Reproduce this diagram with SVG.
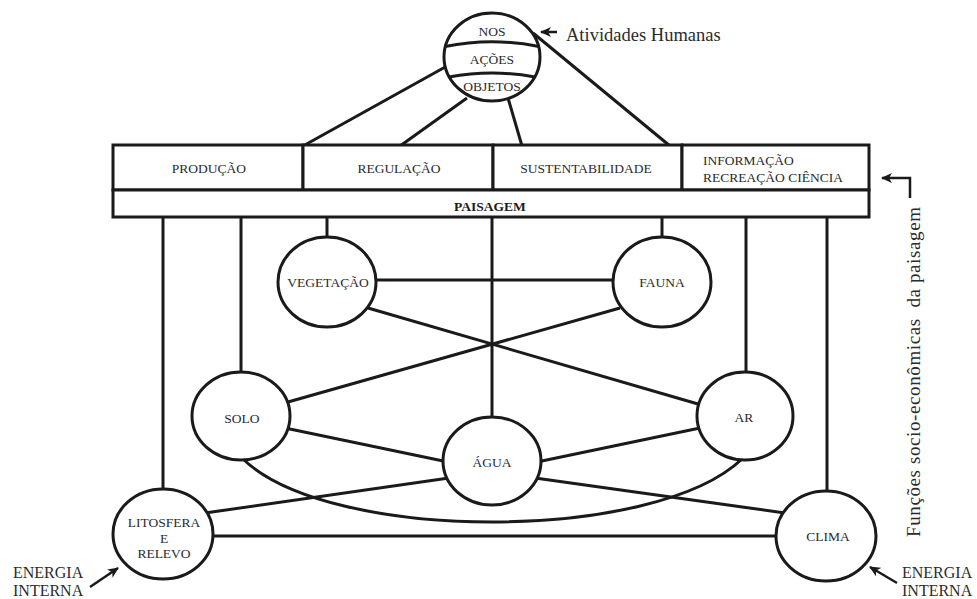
<svg xmlns="http://www.w3.org/2000/svg" width="977" height="599" viewBox="0 0 977 599">
<defs>
<marker id="ah" markerUnits="userSpaceOnUse" markerWidth="12" markerHeight="10" refX="10" refY="5" orient="auto">
<path d="M0,0 L11,5 L0,10 L3,5 z" fill="#1a1a1a"/>
</marker>
</defs>
<style>
.ln{stroke:#1a1a1a;stroke-width:3;fill:none;stroke-linecap:butt}
.nd{stroke:#1a1a1a;stroke-width:3;fill:#fff}
.bx{stroke:#1a1a1a;stroke-width:3;fill:#fff}
.t{font-family:"Liberation Serif","Times New Roman",serif;font-size:13.5px;fill:#2b2b2b;text-anchor:middle}
.b{font-weight:bold;fill:#1a1a1a}
.lg{font-family:"Liberation Serif","Times New Roman",serif;fill:#2b2b2b}
.ar{stroke:#1a1a1a;stroke-width:2.5;fill:none}
</style>
<rect width="977" height="599" fill="#fff"/>
<g id="connectors">
<line class="ln" x1="447" y1="66" x2="303" y2="146"/>
<line class="ln" x1="467" y1="98" x2="400" y2="146"/>
<line class="ln" x1="508" y1="98" x2="522" y2="146"/>
<line class="ln" x1="533" y1="33" x2="670" y2="146"/>
<line class="ln" x1="163" y1="217" x2="163" y2="500"/>
<line class="ln" x1="241" y1="217" x2="241" y2="380"/>
<line class="ln" x1="327" y1="217" x2="327" y2="245"/>
<line class="ln" x1="492" y1="217" x2="492" y2="425"/>
<line class="ln" x1="662" y1="217" x2="662" y2="245"/>
<line class="ln" x1="746" y1="217" x2="746" y2="380"/>
<line class="ln" x1="827" y1="217" x2="827" y2="500"/>
<line class="ln" x1="370" y1="280" x2="620" y2="280"/>
<line class="ln" x1="368" y1="308" x2="698" y2="404"/>
<line class="ln" x1="620" y1="308" x2="288" y2="402"/>
<line class="ln" x1="285" y1="428" x2="448" y2="462"/>
<line class="ln" x1="700" y1="428" x2="537" y2="462"/>
<line class="ln" x1="449" y1="478" x2="205" y2="513"/>
<line class="ln" x1="535" y1="478" x2="785" y2="513"/>
<line class="ln" x1="205" y1="536" x2="785" y2="536"/>
<path class="ln" d="M243,459 C330,543 654,543 742,459"/>
</g>
<g id="top">
<ellipse class="nd" cx="492" cy="57" rx="48" ry="44"/>
<path class="ln" d="M445,46.5 Q492,37 539,46.5"/>
<path class="ln" d="M449,77 Q492,69 535,77"/>
<text class="t" x="492" y="36" font-size="12.5">NOS</text>
<text class="t" x="492" y="64" font-size="12.5">AÇÕES</text>
<text class="t" x="492" y="91" font-size="13">OBJETOS</text>
</g>
<g id="atividades">
<line class="ar" x1="557" y1="32" x2="541" y2="32" marker-end="url(#ah)"/>
<text class="lg" x="566" y="41" font-size="18.5">Atividades Humanas</text>
</g>
<g id="producao">
<rect class="bx" x="113" y="145" width="190" height="45"/>
<text class="t" x="209" y="173">PRODUÇÃO</text>
</g>
<g id="regulacao">
<rect class="bx" x="303" y="145" width="190" height="45"/>
<text class="t" x="399" y="173">REGULAÇÃO</text>
</g>
<g id="sustentabilidade">
<rect class="bx" x="493" y="145" width="189" height="45"/>
<text class="t" x="586" y="173">SUSTENTABILIDADE</text>
</g>
<g id="informacao">
<rect class="bx" x="682" y="145" width="187" height="45"/>
<text class="t" x="703" y="165" style="text-anchor:start">INFORMAÇÃO</text>
<text class="t" x="703" y="182" style="text-anchor:start">RECREAÇÃO CIÊNCIA</text>
</g>
<g id="paisagem">
<rect class="bx" x="113" y="190" width="756" height="27"/>
<text class="t b" x="490" y="211">PAISAGEM</text>
</g>
<g id="funcoes">
<polyline class="ar" points="910,198 910,178 882,178" marker-end="url(#ah)"/>
<text class="lg" transform="translate(920,537) rotate(-90)" font-size="19" textLength="330" lengthAdjust="spacing" xml:space="preserve">Funções socio-econômicas  da paisagem</text>
</g>
<g id="vegetacao">
<ellipse class="nd" cx="327" cy="282" rx="49" ry="45"/>
<text class="t" x="328" y="287">VEGETAÇÃO</text>
</g>
<g id="fauna">
<ellipse class="nd" cx="662" cy="282" rx="49" ry="45"/>
<text class="t" x="662" y="287">FAUNA</text>
</g>
<g id="solo">
<ellipse class="nd" cx="241" cy="416" rx="49" ry="44"/>
<text class="t" x="242" y="423">SOLO</text>
</g>
<g id="ar">
<ellipse class="nd" cx="745" cy="416" rx="48" ry="44"/>
<text class="t" x="744" y="422">AR</text>
</g>
<g id="agua">
<ellipse class="nd" cx="492" cy="461" rx="49" ry="44"/>
<text class="t" x="492" y="467">ÁGUA</text>
</g>
<g id="litosfera">
<ellipse class="nd" cx="163" cy="534" rx="50" ry="45"/>
<text class="t" x="164" y="527">LITOSFERA</text>
<text class="t" x="164" y="543">E</text>
<text class="t" x="164" y="558">RELEVO</text>
</g>
<g id="clima">
<ellipse class="nd" cx="826" cy="536" rx="50" ry="45"/>
<text class="t" x="828" y="541">CLIMA</text>
</g>
<g id="energia-esq">
<line class="ar" x1="90" y1="587" x2="118" y2="568" marker-end="url(#ah)"/>
<text class="lg" x="13" y="578" font-size="16">ENERGIA</text>
<text class="lg" x="13" y="596" font-size="16">INTERNA</text>
</g>
<g id="energia-dir">
<line class="ar" x1="897" y1="583" x2="870" y2="567" marker-end="url(#ah)"/>
<text class="lg" x="902" y="578" font-size="16">ENERGIA</text>
<text class="lg" x="902" y="596" font-size="16">INTERNA</text>
</g>
</svg>
